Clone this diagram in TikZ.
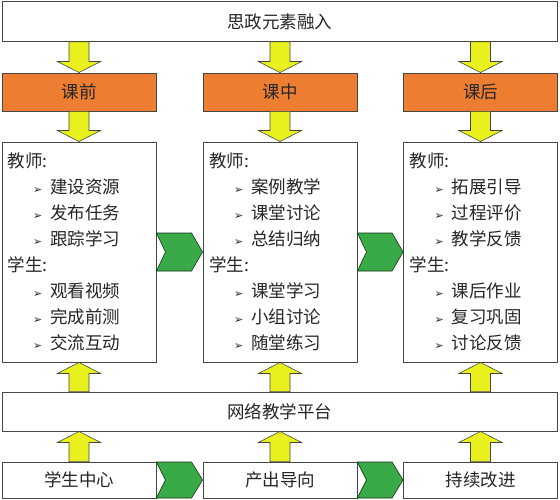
\documentclass[tikz,border=0pt]{standalone}
\usepackage{fontspec}
\setmainfont{Liberation Serif}
\newfontfamily\cjk{Noto Sans CJK SC}
\newfontfamily\dv{DejaVu Sans}
\usetikzlibrary{calc}
\definecolor{orng}{RGB}{237,125,49}
\definecolor{ylw}{RGB}{232,240,30}
\definecolor{grn}{RGB}{58,170,72}
\definecolor{edgec}{RGB}{70,70,70}
\newcommand{\bul}{{\dv\fontsize{11}{11}\selectfont ➢}\hspace{8pt}}
\newcommand{\itm}{\hspace*{25pt}\bul}
\newcommand{\downarr}[2]{%
  \draw[yarr] let \p1=(#1), \p2=(#2) in
    (\x1-10pt,\y1) -- (\x1-10pt,\y2+11pt) -- (\x1-21.5pt,\y2+11pt) -- (\x1,\y2)
    -- (\x1+21.5pt,\y2+11pt) -- (\x1+10pt,\y2+11pt) -- (\x1+10pt,\y1) -- cycle;}
\newcommand{\uparr}[2]{%
  \draw[yarr] let \p1=(#1), \p2=(#2) in
    (\x1-10pt,\y1) -- (\x1-10pt,\y2-11pt) -- (\x1-21.5pt,\y2-11pt) -- (\x1,\y2)
    -- (\x1+21.5pt,\y2-11pt) -- (\x1+10pt,\y2-11pt) -- (\x1+10pt,\y1) -- cycle;}
\newcommand{\chev}[3]{%
  \draw[garr] let \p1=(#1.east), \p2=(#2.west) in
    (\x1,\y1+#3) -- (\x2-11pt,\y1+#3) -- (\x2,\y1) -- (\x2-11pt,\y1-#3)
    -- (\x1,\y1-#3) -- (\x1+9pt,\y1) -- cycle;}
\begin{document}
\begin{tikzpicture}[x=1pt,y=-1pt,
  box/.style={draw=edgec, line width=0.9pt, fill=white, inner sep=0pt,
    font=\cjk\fontsize{17.5}{20}\selectfont, text=black!85},
  wide/.style={box, minimum width=555pt, minimum height=40pt},
  phase/.style={box, fill=orng, minimum width=154pt, minimum height=38pt},
  content/.style={box, minimum width=154pt, minimum height=220pt,
    text width=142pt, align=left, font=\cjk\fontsize{17.5}{26}\selectfont},
  base/.style={box, minimum width=154pt, minimum height=36pt},
  yarr/.style={fill=ylw, draw=edgec, line width=0.6pt, line join=miter},
  garr/.style={fill=grn, draw=black!70!grn, line width=0.6pt, line join=miter},
]
\useasboundingbox (0,0) rectangle (560,500);

\node[wide] (top) at (279.5,21.5) {思政元素融入};

\node[phase] (p1) at (79,92) {课前};
\node[phase] (p2) at (280,92) {课中};
\node[phase] (p3) at (480.5,92) {课后};

\node[content] (c1) at (79,252) {教师:\\\itm 建设资源\\\itm 发布任务\\\itm 跟踪学习\\学生:\\\itm 观看视频\\\itm 完成前测\\\itm 交流互动};
\node[content] (c2) at (280,252) {教师:\\\itm 案例教学\\\itm 课堂讨论\\\itm 总结归纳\\学生:\\\itm 课堂学习\\\itm 小组讨论\\\itm 随堂练习};
\node[content] (c3) at (480.5,252) {教师:\\\itm 拓展引导\\\itm 过程评价\\\itm 教学反馈\\学生:\\\itm 课后作业\\\itm 复习巩固\\\itm 讨论反馈};

\node[wide, minimum height=39pt] (plat) at (279.5,411.5) {网络教学平台};

\node[base] (b1) at (79,480) {学生中心};
\node[base] (b2) at (280,480) {产出导向};
\node[base] (b3) at (480.5,480) {持续改进};

\downarr{top.south -| p1.north}{p1.north}
\downarr{top.south -| p2.north}{p2.north}
\downarr{top.south -| p3.north}{p3.north}
\downarr{p1.south}{c1.north}
\downarr{p2.south}{c2.north}
\downarr{p3.south}{c3.north}

\uparr{plat.north -| c1.south}{c1.south}
\uparr{plat.north -| c2.south}{c2.south}
\uparr{plat.north -| c3.south}{c3.south}
\uparr{b1.north}{plat.south -| b1.north}
\uparr{b2.north}{plat.south -| b2.north}
\uparr{b3.north}{plat.south -| b3.north}

\chev{c1}{c2}{19pt}
\chev{c2}{c3}{19pt}
\chev{b1}{b2}{18pt}
\chev{b2}{b3}{18pt}
\end{tikzpicture}
\end{document}
